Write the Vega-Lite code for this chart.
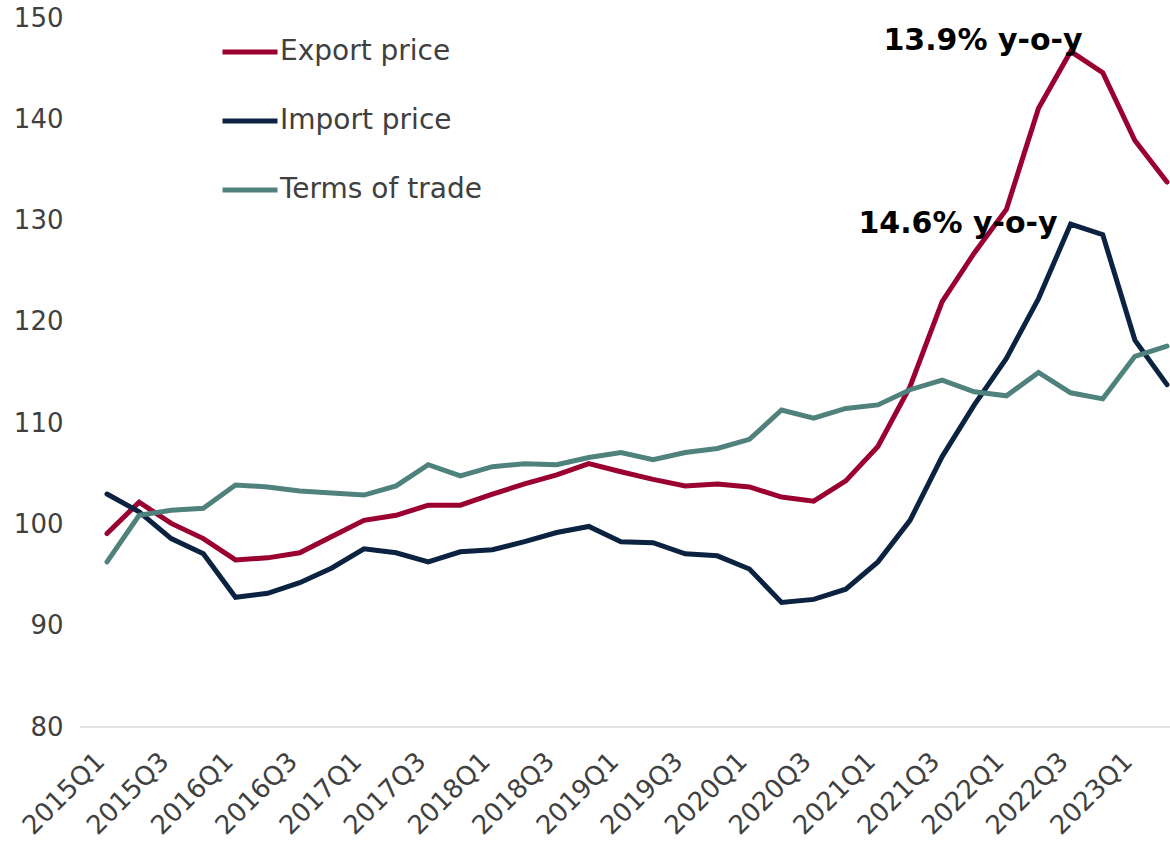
{
  "$schema": "https://vega.github.io/schema/vega-lite/v6.json",
  "autosize": {"type": "none"},
  "width": 1090,
  "height": 709,
  "padding": {"left": 80, "top": 18, "right": 0, "bottom": 119},
  "background": "white",
  "config": {
    "view": {"stroke": null},
    "font": "DejaVu Sans",
    "axis": {"labelFont": "DejaVu Sans", "labelColor": "#404040", "labelFontSize": 26}
  },
  "datasets": {
    "series": [
      {"q": "2015Q1", "Export price": 99.1, "Import price": 103.0, "Terms of trade": 96.3},
      {"q": "2015Q2", "Export price": 102.2, "Import price": 101.25, "Terms of trade": 100.9},
      {"q": "2015Q3", "Export price": 100.1, "Import price": 98.6, "Terms of trade": 101.4},
      {"q": "2015Q4", "Export price": 98.6, "Import price": 97.1, "Terms of trade": 101.6},
      {"q": "2016Q1", "Export price": 96.5, "Import price": 92.8, "Terms of trade": 103.9},
      {"q": "2016Q2", "Export price": 96.7, "Import price": 93.2, "Terms of trade": 103.7},
      {"q": "2016Q3", "Export price": 97.2, "Import price": 94.25, "Terms of trade": 103.3},
      {"q": "2016Q4", "Export price": 98.8, "Import price": 95.7, "Terms of trade": 103.1},
      {"q": "2017Q1", "Export price": 100.4, "Import price": 97.6, "Terms of trade": 102.9},
      {"q": "2017Q2", "Export price": 100.9, "Import price": 97.2, "Terms of trade": 103.8},
      {"q": "2017Q3", "Export price": 101.9, "Import price": 96.3, "Terms of trade": 105.9},
      {"q": "2017Q4", "Export price": 101.9, "Import price": 97.3, "Terms of trade": 104.8},
      {"q": "2018Q1", "Export price": 103.0, "Import price": 97.5, "Terms of trade": 105.7},
      {"q": "2018Q2", "Export price": 104.0, "Import price": 98.3, "Terms of trade": 106.0},
      {"q": "2018Q3", "Export price": 104.9, "Import price": 99.2, "Terms of trade": 105.9},
      {"q": "2018Q4", "Export price": 106.0, "Import price": 99.8, "Terms of trade": 106.6},
      {"q": "2019Q1", "Export price": 105.2, "Import price": 98.3, "Terms of trade": 107.1},
      {"q": "2019Q2", "Export price": 104.45, "Import price": 98.2, "Terms of trade": 106.4},
      {"q": "2019Q3", "Export price": 103.8, "Import price": 97.1, "Terms of trade": 107.1},
      {"q": "2019Q4", "Export price": 104.0, "Import price": 96.9, "Terms of trade": 107.5},
      {"q": "2020Q1", "Export price": 103.7, "Import price": 95.6, "Terms of trade": 108.4},
      {"q": "2020Q2", "Export price": 102.7, "Import price": 92.3, "Terms of trade": 111.3},
      {"q": "2020Q3", "Export price": 102.3, "Import price": 92.6, "Terms of trade": 110.5},
      {"q": "2020Q4", "Export price": 104.3, "Import price": 93.6, "Terms of trade": 111.45},
      {"q": "2021Q1", "Export price": 107.7, "Import price": 96.3, "Terms of trade": 111.8},
      {"q": "2021Q2", "Export price": 113.6, "Import price": 100.4, "Terms of trade": 113.3},
      {"q": "2021Q3", "Export price": 122.0, "Import price": 106.7, "Terms of trade": 114.25},
      {"q": "2021Q4", "Export price": 126.8, "Import price": 111.8, "Terms of trade": 113.1},
      {"q": "2022Q1", "Export price": 131.1, "Import price": 116.4, "Terms of trade": 112.7},
      {"q": "2022Q2", "Export price": 141.1, "Import price": 122.3, "Terms of trade": 115.0},
      {"q": "2022Q3", "Export price": 146.7, "Import price": 129.65, "Terms of trade": 113.0},
      {"q": "2022Q4", "Export price": 144.6, "Import price": 128.6, "Terms of trade": 112.4},
      {"q": "2023Q1", "Export price": 137.9, "Import price": 118.2, "Terms of trade": 116.6},
      {"q": "2023Q2", "Export price": 133.8, "Import price": 113.8, "Terms of trade": 117.6}
    ],
    "notes": [
      {"q": "2022Q3", "v": 146.7, "label": "13.9% y-o-y", "which": "export"},
      {"q": "2022Q3", "v": 129.65, "label": "14.6% y-o-y", "which": "import"}
    ],
    "base": [{"v": 80}]
  },
  "layer": [
    {
      "data": {"name": "base"},
      "mark": {"type": "rule", "color": "#d9d9d9", "strokeWidth": 1.5},
      "encoding": {"y": {"field": "v", "type": "quantitative"}}
    },
    {
      "data": {"name": "series"},
      "transform": [{"fold": ["Export price", "Import price", "Terms of trade"], "as": ["s", "v"]}],
      "mark": {"type": "line", "strokeWidth": 5, "strokeCap": "round", "strokeJoin": "miter"},
      "encoding": {
        "x": {
          "field": "q", "type": "ordinal", "sort": null,
          "scale": {"type": "point", "range": [27, 1087], "padding": 0},
          "axis": {
            "title": null,
            "values": ["2015Q1","2015Q3","2016Q1","2016Q3","2017Q1","2017Q3","2018Q1","2018Q3","2019Q1","2019Q3","2020Q1","2020Q3","2021Q1","2021Q3","2022Q1","2022Q3","2023Q1"],
            "labelAngle": -45,
            "labelAlign": "right",
            "labelBaseline": "middle",
            "labelPadding": 30,
            "labelOffset": -7,
            "ticks": false,
            "domain": false,
            "grid": false
          }
        },
        "y": {
          "field": "v", "type": "quantitative",
          "scale": {"domain": [80, 150], "nice": false, "zero": false},
          "axis": {
            "title": null,
            "values": [80, 90, 100, 110, 120, 130, 140, 150],
            "domain": false, "ticks": false, "grid": false,
            "labelPadding": 17
          }
        },
        "color": {
          "field": "s", "type": "nominal",
          "scale": {"domain": ["Export price", "Import price", "Terms of trade"], "range": ["#9a0030", "#0b2340", "#4f817d"]},
          "legend": {
            "title": null,
            "orient": "none",
            "legendX": 140,
            "legendY": 4,
            "padding": 0,
            "symbolType": "stroke",
            "symbolSize": 3025,
            "symbolStrokeWidth": 5,
            "labelFontSize": 28,
            "labelColor": "#404040",
            "labelFont": "DejaVu Sans",
            "labelOffset": 0,
            "rowPadding": 25,
            "labelLimit": 400
          }
        }
      }
    },
    {
      "data": {"name": "notes"},
      "transform": [{"filter": "datum.which === 'export'"}],
      "mark": {"type": "text", "align": "right", "baseline": "alphabetic", "dx": 12, "dy": -1, "fontSize": 30, "fontWeight": "bold", "color": "black", "font": "DejaVu Sans"},
      "encoding": {
        "x": {"field": "q", "type": "ordinal"},
        "y": {"field": "v", "type": "quantitative"},
        "text": {"field": "label"}
      }
    },
    {
      "data": {"name": "notes"},
      "transform": [{"filter": "datum.which === 'import'"}],
      "mark": {"type": "text", "align": "right", "baseline": "alphabetic", "dx": -13, "dy": 9, "fontSize": 30, "fontWeight": "bold", "color": "black", "font": "DejaVu Sans"},
      "encoding": {
        "x": {"field": "q", "type": "ordinal"},
        "y": {"field": "v", "type": "quantitative"},
        "text": {"field": "label"}
      }
    }
  ]
}
